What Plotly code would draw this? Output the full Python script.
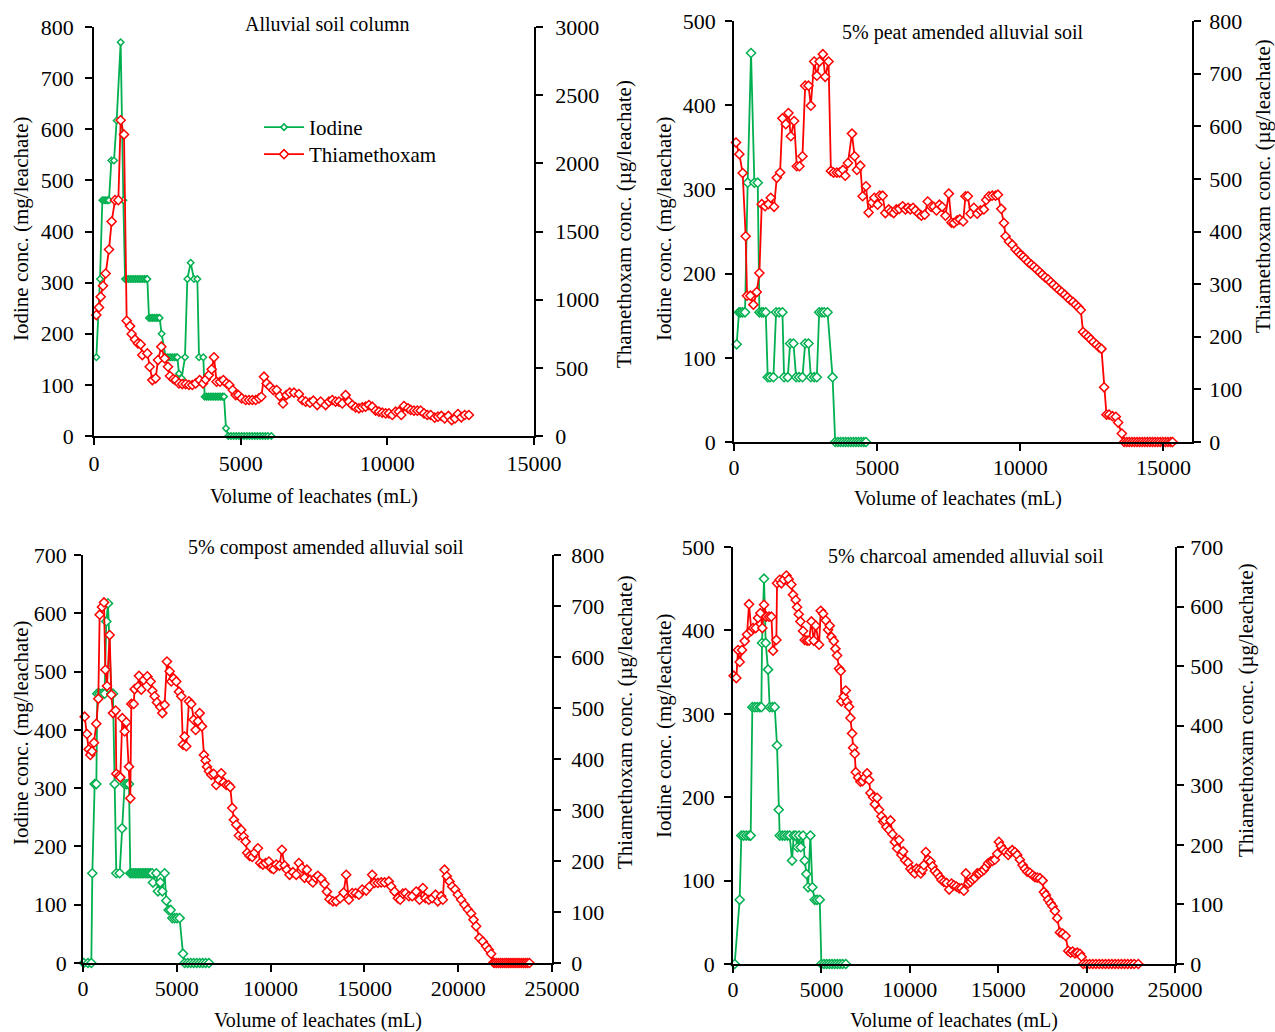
import plotly.graph_objects as go

# ---------------- Panel 1: Alluvial soil column ----------------
p1_iod_x = [80, 205, 284, 341, 398, 455, 511, 591, 682, 773, 909, 1000, 1057, 1120, 1180, 1240, 1300, 1360, 1420,
            1480, 1540, 1600, 1660, 1720, 1780, 1818, 1875, 1940, 2000, 2060, 2120, 2180, 2238, 2306, 2443, 2500,
            2560, 2620, 2680, 2740, 2800, 2841, 2897, 2988, 3102, 3182, 3295, 3409, 3523, 3580, 3727, 3773, 3840,
            3900, 3960, 4020, 4080, 4140, 4200, 4260, 4320, 4380, 4432, 4500, 4580, 4670, 4760, 4850, 4940, 5030,
            5120, 5210, 5300, 5390, 5480, 5570, 5660, 5750, 5840, 5930, 6045]
p1_iod_y = [154, 307, 461, 461, 461, 461, 461, 539, 539, 617, 770, 461, 307, 307, 307, 307, 307, 307, 307,
            307, 307, 307, 307, 307, 307, 307, 231, 231, 231, 231, 231, 231, 231, 200, 154, 154,
            154, 154, 154, 154, 154, 154, 122, 113, 154, 307, 339, 307, 307, 154, 154, 77, 77,
            77, 77, 77, 77, 77, 77, 77, 77, 77, 77, 15, 0, 0, 0, 0, 0, 0,
            0, 0, 0, 0, 0, 0, 0, 0, 0, 0, 0]
p1_thm_x = [80, 170, 227, 307, 398, 511, 602, 716, 830, 909, 1023, 1114, 1227, 1284, 1398, 1500, 1590, 1648, 1818,
            1898, 1989, 2102, 2182, 2295, 2409, 2522, 2590, 2704, 2784, 2897, 3011, 3125, 3238, 3352, 3466, 3602,
            3716, 3807, 3920, 4011, 4091, 4180, 4295, 4409, 4523, 4614, 4727, 4830, 4920, 5034, 5170, 5284, 5398,
            5511, 5625, 5705, 5795, 5886, 6000, 6114, 6227, 6330, 6443, 6557, 6670, 6818, 6986, 7100, 7216, 7361,
            7477, 7611, 7727, 7895, 8009, 8122, 8236, 8350, 8463, 8577, 8690, 8804, 8918, 9032, 9145, 9259, 9373,
            9486, 9600, 9713, 9827, 9941, 10055, 10168, 10282, 10395, 10475, 10568, 10705, 10795, 10909, 11023,
            11136, 11250, 11364, 11477, 11614, 11727, 11841, 11955, 12080, 12193, 12307, 12409, 12523, 12636, 12780]
p1_thm_y = [887, 943, 1021, 1102, 1192, 1368, 1573, 1730, 1730, 2316, 2211, 845, 806, 748, 708, 679, 672, 594, 606,
            508, 410, 423, 557, 655, 569, 508, 440, 418, 410, 386, 381, 381, 374, 374, 386, 410,
            386, 415, 447, 489, 577, 398, 398, 410, 386, 374, 337, 300, 300, 276, 264, 264, 264,
            264, 276, 288, 435, 386, 362, 337, 337, 293, 239, 300, 318, 318, 308, 264, 252, 244,
            259, 227, 252, 227, 252, 264, 252, 252, 239, 300, 252, 227, 210, 203, 210, 215, 227,
            215, 186, 178, 171, 166, 166, 154, 178, 178, 154, 220, 203, 191, 186, 186,
            186, 166, 154, 154, 134, 142, 147, 129, 147, 117, 129, 161, 137, 154, 154]

# ---------------- Panel 2: 5% peat amended alluvial soil ----------------
p2_iod_x = [93, 175, 233, 303, 385, 478, 595, 712, 829, 887, 969, 1027, 1109, 1179, 1260, 1377, 1470, 1575, 1692,
            1750, 1879, 1961, 2077, 2170, 2275, 2392, 2486, 2602, 2684, 2801, 2894, 2976, 3069, 3151, 3268, 3443,
            3536, 3630, 3720, 3810, 3900, 3990, 4080, 4170, 4260, 4350, 4440, 4530, 4610]
p2_iod_y = [116, 154, 154, 154, 154, 308, 462, 308, 308, 154, 154, 154, 154, 77, 77, 77, 154, 154, 154,
            77, 77, 117, 117, 77, 77, 77, 117, 117, 77, 77, 77, 154, 154, 154, 154, 77,
            0, 0, 0, 0, 0, 0, 0, 0, 0, 0, 0, 0, 0]
p2_thm_x = [70, 187, 303, 408, 455, 572, 677, 794, 887, 969, 1085, 1202, 1284, 1400, 1494, 1610, 1692, 1809, 1902,
            1984, 2100, 2194, 2287, 2392, 2486, 2602, 2684, 2801, 2894, 2988, 3104, 3186, 3303, 3385, 3478, 3594,
            3688, 3804, 3886, 3980, 4120, 4213, 4295, 4412, 4493, 4610, 4703, 4820, 4902, 5018, 5088, 5193, 5287,
            5403, 5485, 5578, 5671, 5776, 5893, 5987, 6080, 6162, 6255, 6337, 6454, 6547, 6663, 6768, 6885, 6978,
            7072, 7177, 7270, 7387, 7504, 7597, 7679, 7796, 7889, 8005, 8087, 8169, 8262, 8379, 8495, 8612, 8729,
            8811, 8904, 9021, 9138, 9220, 9337, 9430, 9488, 9605, 9721, 9838, 9931, 10013, 10106, 10188, 10281,
            10386, 10480, 10573, 10678, 10771, 10865, 10970, 11063, 11156, 11261, 11355, 11448, 11553, 11647,
            11740, 11845, 11938, 12032, 12114, 12195, 12288, 12382, 12463, 12557, 12662, 12755, 12837, 12930,
            13012, 13105, 13222, 13339, 13420, 13549, 13630, 13720, 13810, 13900, 13990, 14080, 14170, 14260,
            14350, 14440, 14530, 14620, 14710, 14800, 14890, 14980, 15070, 15160, 15250, 15320]
p2_thm_y = [569, 547, 511, 391, 278, 278, 261, 285, 321, 452, 448, 452, 464, 447, 502, 512, 615, 604, 625,
            581, 610, 524, 524, 543, 677, 677, 639, 723, 696, 723, 737, 694, 723, 515, 512, 512,
            512, 517, 506, 530, 586, 543, 517, 525, 467, 486, 436, 455, 464, 451, 468, 468, 435,
            442, 438, 435, 442, 443, 448, 442, 445, 442, 445, 440, 434, 430, 432, 457, 447, 447,
            440, 451, 447, 430, 472, 417, 416, 421, 423, 419, 467, 467, 434, 445, 434, 440, 442,
            460, 467, 468, 468, 470, 443, 416, 391, 381, 375, 366, 361, 356, 352, 347, 342,
            337, 333, 328, 323, 318, 313, 309, 304, 299, 294, 289, 285, 280, 275,
            270, 266, 261, 256, 251, 209, 204, 200, 195, 190, 185, 180, 177, 104,
            52, 52, 49, 48, 37, 16, 0, 0, 0, 0, 0, 0, 0, 0,
            0, 0, 0, 0, 0, 0, 0, 0, 0, 0, 0, 0]

# ---------------- Panel 3: 5% compost amended alluvial soil ----------------
p3_iod_x = [36, 266, 444, 497, 622, 710, 764, 888, 1030, 1154, 1243, 1332, 1510, 1598, 1687, 1776, 1954, 2078,
            2220, 2344, 2451, 2522, 2610, 2700, 2790, 2880, 2970, 3060, 3150, 3240, 3330, 3420, 3510, 3600, 3690,
            3730, 3907, 3996, 4120, 4227, 4351, 4440, 4564, 4671, 4760, 4884, 5008, 5150, 5328, 5417, 5580, 5740,
            5900, 6060, 6220, 6380, 6540, 6713]
p3_iod_y = [0, 0, 0, 154, 307, 307, 462, 462, 462, 462, 586, 617, 462, 462, 307, 154, 154, 231,
            307, 307, 307, 154, 154, 154, 154, 154, 154, 154, 154, 154, 154, 154, 154, 154, 154,
            138, 154, 123, 138, 123, 154, 107, 91, 91, 77, 77, 77, 77, 16, 0, 0, 0,
            0, 0, 0, 0, 0, 0]
p3_thm_x = [89, 213, 302, 391, 480, 586, 710, 817, 888, 1012, 1119, 1190, 1279, 1421, 1510, 1598, 1740, 1776,
            1918, 1989, 2096, 2220, 2309, 2451, 2522, 2575, 2700, 2753, 2930, 2984, 3108, 3232, 3428, 3605, 3694,
            3818, 3943, 4120, 4227, 4351, 4475, 4618, 4707, 4831, 4973, 5115, 5239, 5328, 5417, 5505, 5647, 5772,
            5896, 6003, 6127, 6216, 6340, 6447, 6536, 6607, 6713, 6838, 6962, 7104, 7246, 7370, 7495, 7637, 7761,
            7850, 7957, 8045, 8170, 8312, 8436, 8560, 8667, 8756, 8880, 9022, 9146, 9324, 9448, 9590, 9733, 9910,
            10034, 10159, 10301, 10478, 10603, 10745, 10869, 11011, 11189, 11367, 11508, 11668, 11810, 11935,
            12112, 12254, 12396, 12520, 12698, 12876, 13000, 13142, 13320, 13498, 13711, 13889, 14030, 14172,
            14350, 14528, 14706, 14883, 15096, 15274, 15416, 15540, 15718, 15896, 16073, 16304, 16428, 16606,
            16784, 16908, 17050, 17192, 17370, 17547, 17760, 17938, 18115, 18257, 18435, 18612, 18790, 18914,
            19092, 19181, 19270, 19394, 19536, 19678, 19838, 19980, 20157, 20335, 20513, 20690, 20815, 20957,
            21134, 21312, 21490, 21632, 21756, 21880, 21933, 22040, 22150, 22260, 22370, 22480, 22590, 22700,
            22810, 22920, 23030, 23140, 23250, 23360, 23470, 23580, 23690, 23798]
p3_thm_y = [483, 449, 419, 408, 415, 432, 469, 518, 683, 698, 707, 575, 543, 643, 526, 490, 495, 371,
            367, 364, 480, 454, 472, 385, 323, 508, 508, 537, 542, 563, 536, 555, 562, 552, 534,
            523, 511, 502, 490, 506, 591, 572, 552, 558, 552, 532, 523, 428, 444, 425, 513, 508,
            477, 457, 474, 490, 464, 408, 397, 385, 376, 369, 371, 349, 359, 372, 354, 349, 349,
            345, 304, 281, 271, 250, 261, 248, 238, 216, 210, 208, 216, 225, 196, 193, 196, 199,
            186, 184, 193, 191, 222, 191, 183, 173, 178, 173, 196, 186, 167, 183,
            163, 158, 167, 171, 165, 155, 140, 125, 121, 121, 127, 138, 173, 124,
            137, 137, 134, 144, 142, 150, 173, 157, 157, 158, 158, 160, 150, 140,
            127, 124, 136, 137, 131, 131, 140, 124, 147, 127, 124, 127, 134, 121,
            131, 124, 183, 170, 160, 150, 144, 134, 124, 114, 105, 97, 85, 72,
            49, 42, 33, 26, 18, 1, 0, 0, 0, 0, 0, 0, 0, 0,
            0, 0, 0, 0, 0, 0, 0, 0, 0, 0]

# ---------------- Panel 4: 5% charcoal amended alluvial soil ----------------
p4_iod_x = [94, 377, 472, 604, 755, 906, 1000, 1094, 1226, 1359, 1510, 1604, 1642, 1755, 1849, 1981, 2076, 2226,
            2359, 2491, 2585, 2642, 2793, 2925, 3076, 3208, 3340, 3434, 3548, 3642, 3736, 3830, 3963, 4057, 4151,
            4246, 4378, 4491, 4623, 4755, 4906, 5000, 5150, 5300, 5450, 5600, 5750, 5900, 6050, 6200, 6378]
p4_iod_y = [0, 77, 154, 154, 154, 154, 154, 308, 308, 308, 308, 308, 385, 462, 385, 353, 308, 308,
            308, 262, 185, 154, 154, 154, 154, 154, 124, 154, 154, 140, 154, 140, 154, 124, 108,
            92, 154, 92, 77, 77, 77, 0, 0, 0, 0, 0, 0, 0, 0, 0, 0]
p4_thm_x = [38, 189, 283, 377, 509, 660, 793, 906, 1038, 1132, 1283, 1415, 1547, 1660, 1755, 1887, 2038, 2170,
            2264, 2453, 2491, 2642, 2736, 2868, 3019, 3151, 3302, 3396, 3547, 3623, 3717, 3812, 3963, 4057, 4189,
            4302, 4434, 4566, 4680, 4868, 4962, 5094, 5245, 5377, 5472, 5566, 5698, 5793, 5887, 6000, 6094, 6132,
            6264, 6377, 6453, 6566, 6642, 6736, 6793, 6887, 6944, 7076, 7208, 7321, 7453, 7585, 7698, 7774, 7925,
            8019, 8151, 8264, 8397, 8491, 8585, 8680, 8831, 8906, 9019, 9151, 9284, 9397, 9529, 9623, 9736, 9906,
            10038, 10151, 10283, 10378, 10510, 10623, 10717, 10793, 10906, 11038, 11170, 11283, 11415, 11548,
            11698, 11793, 11925, 12076, 12227, 12359, 12491, 12642, 12793, 12925, 13057, 13170, 13302, 13434,
            13548, 13680, 13812, 13925, 14057, 14189, 14302, 14434, 14566, 14679, 14811, 14943, 15038, 15151,
            15283, 15434, 15566, 15661, 15793, 15944, 16076, 16227, 16378, 16510, 16642, 16793, 16944, 17076,
            17208, 17359, 17510, 17585, 17698, 17830, 17962, 18076, 18208, 18340, 18491, 18642, 18812, 18963,
            19095, 19208, 19340, 19472, 19623, 19717, 19812, 19990, 20170, 20350, 20530, 20710, 20890, 21070,
            21250, 21430, 21610, 21790, 21970, 22150, 22330, 22510, 22690, 22925]
p4_thm_y = [484, 480, 527, 507, 527, 542, 553, 604, 559, 564, 564, 581, 589, 564, 603, 583, 583, 583,
            526, 544, 639, 645, 639, 645, 652, 646, 637, 620, 611, 599, 587, 575, 559, 544, 543,
            543, 575, 543, 568, 536, 593, 588, 577, 561, 568, 549, 542, 529, 518, 496, 492, 441,
            449, 459, 440, 432, 413, 387, 363, 353, 322, 313, 306, 307, 313, 320, 309, 287, 280,
            268, 279, 259, 248, 239, 241, 230, 225, 241, 218, 205, 194, 208, 183, 189, 174, 170,
            160, 156, 152, 160, 158, 152, 158, 166, 188, 175, 172, 164, 156, 152,
            146, 141, 138, 136, 125, 135, 132, 130, 127, 127, 123, 152, 135, 138,
            142, 145, 152, 152, 155, 158, 163, 169, 172, 173, 175, 185, 205, 198,
            192, 188, 183, 188, 191, 188, 183, 175, 166, 160, 155, 153, 149, 146,
            145, 144, 140, 121, 116, 108, 102, 97, 89, 77, 53, 51, 47, 22,
            19, 21, 18, 19, 17, 12, 0, 0, 0, 0, 0, 0, 0, 0,
            0, 0, 0, 0, 0, 0, 0, 0, 0, 0]

titles = ["Alluvial soil column", "5% peat amended alluvial soil",
          "5% compost amended alluvial soil", "5% charcoal amended alluvial soil"]
right_titles = ["Thamethoxam conc. (\u00b5g/leachate)", "Thiamethoxam conc. (\u00b5g/leachate)",
                "Thiamethoxam conc. (\u00b5g/leachate)", "Thiamethoxam conc. (\u00b5g/leachate)"]
left_title = "Iodine conc. (mg/leachate)"
x_title = "Volume of leachates (mL)"

W, H = 1275, 1032
GREEN = "#00B050"
RED = "#FF0000"
FONT = "Liberation Serif"

def px(x):
    return x / W

def py(y):
    return 1 - y / H

# panel geometry (pixels): left, right, top, bottom
panels = [
    dict(l=94, r=534, t=27, b=436, xmax=15000, ylmax=800, yldt=100, yrmax=3000, yrdt=500,
         lso=7, rso=8, xso=0,
         lt=(21, 229), rt=(624, 224), xt=(314, 497), tt=(327, 24)),
    dict(l=734, r=1192, t=21, b=442, xmax=16000, ylmax=500, yldt=100, yrmax=800, yrdt=100,
         lso=5, rso=4, xso=-2,
         lt=(664, 229), rt=(1263, 186), xt=(958, 499), tt=(962, 32)),
    dict(l=83, r=552, t=555, b=963, xmax=25000, ylmax=700, yldt=100, yrmax=800, yrdt=100,
         lso=3, rso=6, xso=-2,
         lt=(21, 733), rt=(625, 722), xt=(318, 1020), tt=(326, 547)),
    dict(l=733, r=1175, t=547, b=964, xmax=25000, ylmax=500, yldt=100, yrmax=700, yrdt=100,
         lso=5, rso=2, xso=-2,
         lt=(664, 726), rt=(1246, 710), xt=(954, 1020), tt=(966, 556)),
]

data = [
    (p1_iod_x, p1_iod_y, p1_thm_x, p1_thm_y),
    (p2_iod_x, p2_iod_y, p2_thm_x, p2_thm_y),
    (p3_iod_x, p3_iod_y, p3_thm_x, p3_thm_y),
    (p4_iod_x, p4_iod_y, p4_thm_x, p4_thm_y),
]

fig = go.Figure()
layout = dict(width=W, height=H, margin=dict(l=0, r=0, t=0, b=0, pad=0, autoexpand=False),
              paper_bgcolor="white", plot_bgcolor="white",
              font=dict(family=FONT, size=22, color="black"))
annotations = []

axis_common = dict(showline=True, linecolor="black", linewidth=1.5, ticks="outside", ticklen=7,
                   tickwidth=1.5, tickcolor="black", showgrid=False, zeroline=False, automargin=False,
                   tickformat="d", tickfont=dict(family=FONT, size=22, color="black"))

for i, (p, (ix, iy, tx, ty)) in enumerate(zip(panels, data)):
    n = i + 1
    xa = "xaxis" if n == 1 else f"xaxis{n}"
    yl_id = 2 * n - 1
    yr_id = 2 * n
    yl = "yaxis" if yl_id == 1 else f"yaxis{yl_id}"
    yr = f"yaxis{yr_id}"
    xref = "x" if n == 1 else f"x{n}"
    ylref = "y" if yl_id == 1 else f"y{yl_id}"
    yrref = f"y{yr_id}"

    layout[xa] = dict(domain=[px(p["l"]), px(p["r"])], range=[0, p["xmax"]], dtick=5000,
                      tick0=0, anchor=ylref, ticklabelstandoff=p["xso"], **axis_common)
    layout[yl] = dict(domain=[py(p["b"]), py(p["t"])], range=[0, p["ylmax"]], dtick=p["yldt"],
                      anchor=xref, side="left", ticklabelstandoff=p["lso"], **axis_common)
    layout[yr] = dict(range=[0, p["yrmax"]], dtick=p["yrdt"], anchor=xref, overlaying=ylref,
                      side="right", ticklabelstandoff=p["rso"], **axis_common)

    msize_i = 5 if n == 1 else 7
    fig.add_trace(go.Scatter(x=ix, y=iy, xaxis=xref, yaxis=ylref, mode="lines+markers",
                             name="Iodine", showlegend=(n == 1), cliponaxis=False, legend="legend",
                             line=dict(color=GREEN, width=1.8),
                             marker=dict(symbol="diamond", size=msize_i, color="white",
                                         line=dict(color=GREEN, width=1.5))))
    fig.add_trace(go.Scatter(x=tx, y=ty, xaxis=xref, yaxis=yrref, mode="lines+markers",
                             name="Thiamethoxam", showlegend=(n == 1), cliponaxis=False, legend="legend2",
                             line=dict(color=RED, width=1.8),
                             marker=dict(symbol="diamond", size=7, color="white",
                                         line=dict(color=RED, width=1.5))))

    annotations.append(dict(text=titles[i], x=px(p["tt"][0]), y=py(p["tt"][1]), xref="paper", yref="paper",
                            showarrow=False, xanchor="center", yanchor="middle",
                            font=dict(family=FONT, size=20, color="black")))
    annotations.append(dict(text=left_title, x=px(p["lt"][0]), y=py(p["lt"][1]), xref="paper", yref="paper",
                            showarrow=False, textangle=-90, xanchor="center", yanchor="middle",
                            font=dict(family=FONT, size=21, color="black")))
    annotations.append(dict(text=right_titles[i], x=px(p["rt"][0]), y=py(p["rt"][1]), xref="paper",
                            yref="paper", showarrow=False, textangle=-90, xanchor="center",
                            yanchor="middle", font=dict(family=FONT, size=21, color="black")))
    annotations.append(dict(text=x_title, x=px(p["xt"][0]), y=py(p["xt"][1]), xref="paper", yref="paper",
                            showarrow=False, xanchor="center", yanchor="middle",
                            font=dict(family=FONT, size=20, color="black")))

layout["annotations"] = annotations
leg_common = dict(xanchor="left", yanchor="top", bgcolor="rgba(0,0,0,0)",
                  font=dict(family=FONT, size=21, color="black"), itemwidth=40)
layout["legend"] = dict(x=px(259), y=py(107), **leg_common)
layout["legend2"] = dict(x=px(259), y=py(134), **leg_common)
layout["showlegend"] = True
fig.update_layout(**layout)

fig.write_html("out.html", config={"displayModeBar": False},
               post_script="document.body.style.margin='0';document.body.style.padding='0';"
                           "document.body.style.overflow='hidden';")
